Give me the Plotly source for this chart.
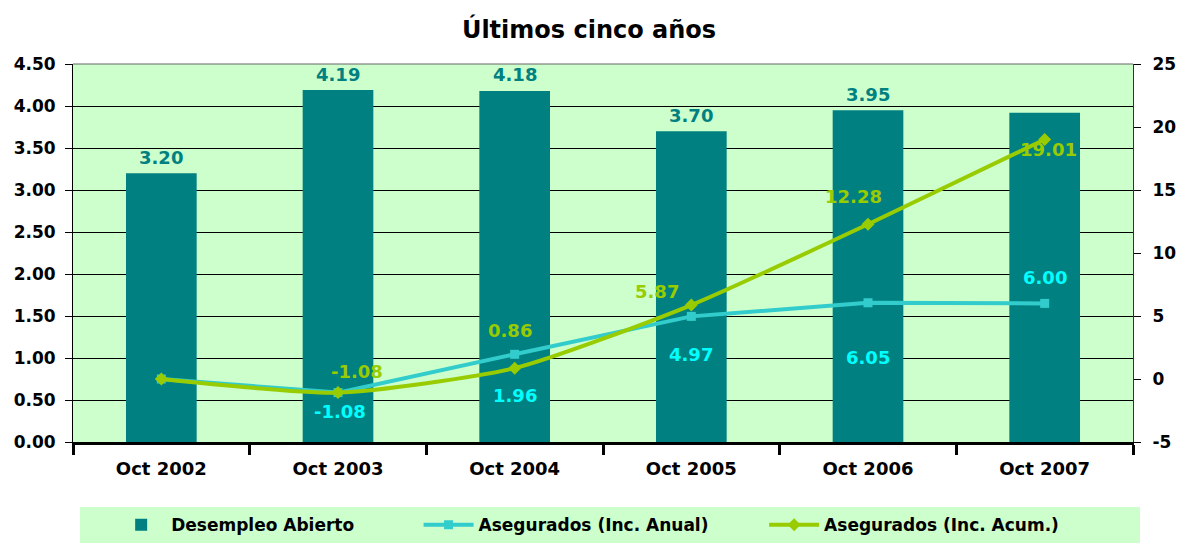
import plotly.graph_objects as go

categories = ["Oct 2002", "Oct 2003", "Oct 2004", "Oct 2005", "Oct 2006", "Oct 2007"]
desempleo = [3.20, 4.19, 4.18, 3.70, 3.95, 3.92]
desempleo_labels = ["3.20", "4.19", "4.18", "3.70", "3.95", ""]
inc_anual = [0.0, -1.08, 1.96, 4.97, 6.05, 6.00]
inc_acum = [0.0, -1.08, 0.86, 5.87, 12.28, 19.01]
left_ticks = [0, 0.5, 1, 1.5, 2, 2.5, 3, 3.5, 4, 4.5]
right_ticks = [-5, 0, 5, 10, 15, 20, 25]
right_tick_text = ["-5", "0", "5", "10", "15", "20", "25"]

FONT = "DejaVu Sans"
TEAL = "#008080"
CYAN = "#33CCCC"
CYAN_TXT = "#00FFFF"
GREEN = "#99CC00"
BG = "#CCFFCC"

fig = go.Figure()
fig.add_trace(go.Bar(x=categories, y=desempleo, name="Desempleo Abierto",
                     marker=dict(color=TEAL, line=dict(width=0)), width=0.4,
                     legend="legend", showlegend=True))
fig.add_trace(go.Scatter(x=categories, y=inc_anual, name="Asegurados (Inc. Anual)",
                         yaxis="y2", mode="lines+markers",
                         line=dict(color=CYAN, width=4),
                         marker=dict(symbol="square", size=9, color=CYAN),
                         legend="legend2", showlegend=True))
fig.add_trace(go.Scatter(x=categories, y=inc_acum, name="Asegurados (Inc. Acum.)",
                         yaxis="y2", mode="lines+markers",
                         line=dict(color=GREEN, width=4, shape="spline", smoothing=0.6),
                         marker=dict(symbol="diamond", size=10, color=GREEN),
                         legend="legend3", showlegend=True))

annotations = []
lab_font = dict(family=FONT, size=18, color=TEAL, weight="bold")
for c, v, t in zip(categories, desempleo, desempleo_labels):
    if t:
        annotations.append(dict(x=c, y=v, xref="x", yref="y", text=t,
                                showarrow=False, yshift=16, font=lab_font))
anual_shift = [None, (2, -19), (0, -41), (0, -38), (0, -55), (0, 26)]
for c, v, s in zip(categories, inc_anual, anual_shift):
    if s:
        annotations.append(dict(x=c, y=v, xref="x", yref="y2", text=f"{v:.2f}",
                                showarrow=False, xshift=s[0], yshift=s[1],
                                font=dict(family=FONT, size=18, color=CYAN_TXT,
                                          weight="bold")))
acum_shift = [None, (19, 21), (-5, 38), (-34, 14), (-15, 28), (4, -10)]
for c, v, s in zip(categories, inc_acum, acum_shift):
    if s:
        annotations.append(dict(x=c, y=v, xref="x", yref="y2", text=f"{v:.2f}",
                                showarrow=False, xshift=s[0], yshift=s[1],
                                font=dict(family=FONT, size=18, color=GREEN,
                                          weight="bold")))

legend_common = dict(orientation="h", yanchor="middle", y=-0.22, xanchor="left",
                     bgcolor="rgba(0,0,0,0)",
                     font=dict(family=FONT, size=17, color="black", weight="bold"),
                     itemwidth=50)

ytick_font = dict(family=FONT, size=17, color="black", weight="bold")
xtick_font = dict(family=FONT, size=18, color="black", weight="bold")

fig.update_layout(
    width=1178, height=544,
    margin=dict(l=73, r=45, t=64, b=102, autoexpand=False),
    paper_bgcolor="white",
    plot_bgcolor=BG,
    title=dict(text="Últimos cinco años", x=0.5, xanchor="center", y=0.945,
               yanchor="middle",
               font=dict(family=FONT, size=24, color="black", weight="bold")),
    font=dict(family=FONT, size=16, color="black"),
    xaxis=dict(type="category", showline=True, linecolor="black", linewidth=3,
               ticks="outside", tickson="boundaries", ticklen=10, tickwidth=3,
               tickcolor="black", tickfont=xtick_font, automargin=False,
               ticklabelstandoff=8, showgrid=False),
    yaxis=dict(range=[0, 4.5], tickvals=left_ticks,
               tickformat=".2f", showgrid=True, gridcolor="black", gridwidth=1,
               showline=True, linecolor="black", linewidth=1, ticks="outside",
               ticklen=7, tickcolor="black", automargin=False,
               tickfont=ytick_font, zeroline=False, ticklabelstandoff=6),
    yaxis2=dict(range=[-5, 25], tickvals=right_ticks, ticktext=right_tick_text,
                overlaying="y",
                side="right", showgrid=False, showline=True, linecolor="#333333",
                linewidth=1, ticks="outside", ticklen=7, tickcolor="black",
                automargin=False, tickfont=ytick_font, zeroline=False,
                ticklabelstandoff=8),
    legend=dict(legend_common, x=0.036),
    legend2=dict(legend_common, x=0.326),
    legend3=dict(legend_common, x=0.652),
    annotations=annotations,
    shapes=[dict(type="rect", xref="paper", yref="paper", x0=0.0066, x1=1.0066,
                 y0=-0.267, y1=-0.172, fillcolor=BG, line=dict(width=0), layer="below"),
            dict(type="line", xref="paper", yref="paper", x0=0, x1=1, y0=1, y1=1,
                 line=dict(color="#666666", width=1))],
)

fig.write_html("out.html", config={"displayModeBar": False},
               post_script="document.body.style.margin='0';"
                           "document.body.style.overflow='hidden';")
